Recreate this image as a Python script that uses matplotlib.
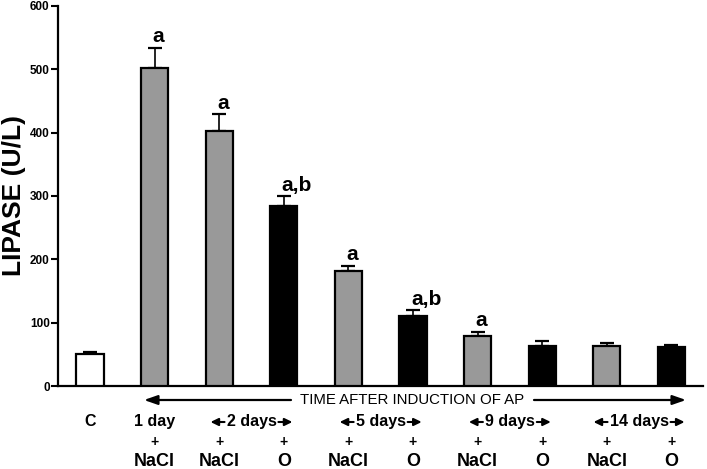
import matplotlib
matplotlib.use('Agg')
import matplotlib.pyplot as plt
from matplotlib.patches import FancyArrowPatch
from matplotlib.transforms import blended_transform_factory
import numpy as np

plt.rcParams['font.family'] = ['Liberation Sans', 'DejaVu Sans']

# data
groups = ['C', '1 day', '2 days', '2 days', '5 days', '5 days',
          '9 days', '9 days', '14 days', '14 days']
treatment = ['', 'NaCl', 'NaCl', 'O', 'NaCl', 'O', 'NaCl', 'O', 'NaCl', 'O']
lipase = [51, 502, 402, 284, 181, 111, 79, 63, 63, 61]
sem = [2, 32, 27, 16, 9, 9, 7, 8, 5, 3]
signif = ['', 'a', 'a', 'a,b', 'a', 'a,b', 'a', '', '', '']
time_labels = ['C', '1 day', '2 days', '5 days', '9 days', '14 days']
time_pos = [0, 1, 2.5, 4.5, 6.5, 8.5]
time_arrows = [False, False, True, True, True, True]

colors = {'': 'white', 'NaCl': '#999999', 'O': 'black'}

W, H = 707, 469
fig = plt.figure(figsize=(W / 100, H / 100), dpi=100)
ax = fig.add_axes([58 / W, 1 - 386 / H, (703 - 58) / W, (386 - 6) / H])

x = np.arange(len(lipase))
ax.bar(x, lipase, width=0.42, color=[colors[t] for t in treatment],
       edgecolor='black', linewidth=1.6, zorder=3)
ax.errorbar(x, lipase, yerr=[np.zeros(len(sem)), sem], fmt='none',
            ecolor='black', elinewidth=1.2, capsize=5, capthick=1.6, zorder=2)

for xi, v, e, s in zip(x, lipase, sem, signif):
    if s:
        ax.annotate(s, (xi - 0.03, v + e), xytext=(0, 1), textcoords='offset points',
                    ha='left', va='bottom', fontsize=15, fontweight='bold')

ax.set_xlim(-0.495, 9.49)
ax.set_ylim(0, 600)
ax.set_yticks(np.arange(0, 601, 100))
ax.set_xticks([])
ax.spines['top'].set_visible(False)
ax.spines['right'].set_visible(False)
ax.spines['left'].set_linewidth(1.6)
ax.spines['bottom'].set_linewidth(1.6)
ax.tick_params(axis='y', length=5, width=1.5, labelsize=8.5, pad=1)
for lab in ax.get_yticklabels():
    lab.set_fontweight('bold')
ax.set_ylabel('LIPASE (U/L)', fontsize=19, fontweight='bold', labelpad=3)

# time annotation below the axis
fy = lambda px: 1 - px / H
tr = blended_transform_factory(ax.transData, fig.transFigure)


def px_arrow(x0, x1, y, lw=1.3, hl=6, hw=2.5):
    fig.add_artist(FancyArrowPatch(
        (x0 / W, fy(y)), (x1 / W, fy(y)), transform=fig.transFigure,
        arrowstyle=f'-|>,head_length={hl},head_width={hw}', color='black',
        lw=lw, mutation_scale=1, shrinkA=0, shrinkB=0))


fig.text(412 / W, fy(400), 'TIME AFTER INDUCTION OF AP', ha='center', va='center',
         fontsize=10.8)
px_arrow(291, 144, 400, lw=1.6, hl=8, hw=2.8)
px_arrow(534, 686, 400, lw=1.6, hl=8, hw=2.8)

renderer = fig.canvas.get_renderer()
for p, t, arr in zip(time_pos, time_labels, time_arrows):
    txt = ax.text(p, fy(421), t, transform=tr, ha='center', va='center',
                  fontsize=11.5, fontweight='bold')
    if arr:
        bb = txt.get_window_extent(renderer)
        ypx = H - (bb.y0 + bb.y1) / 2 + 1
        px_arrow(bb.x0 - 2, bb.x0 - 16, ypx, lw=1.5, hl=4.5, hw=2.2)
        px_arrow(bb.x1 + 2, bb.x1 + 16, ypx, lw=1.5, hl=4.5, hw=2.2)

for xi, t in zip(x, treatment):
    if t:
        ax.text(xi, fy(442), '+', transform=tr, ha='center', va='center',
                fontsize=10, fontweight='bold')
        ax.text(xi, fy(461), t, transform=tr, ha='center', va='center',
                fontsize=13, fontweight='bold')

fig.savefig('out.png', dpi=100)
